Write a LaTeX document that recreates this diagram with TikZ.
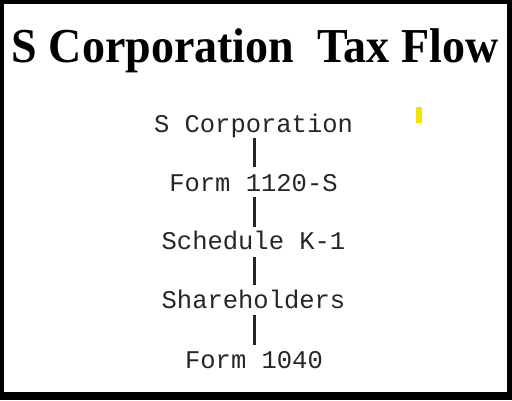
\documentclass[tikz,border=0pt]{standalone}
\usepackage{fontspec}
\setmainfont{Liberation Serif}
\setmonofont{Liberation Mono}
\definecolor{markyellow}{HTML}{F2E500}
\tikzset{
  titletext/.style={anchor=base, inner sep=0pt, yscale=1.06, font=\fontsize{46}{50}\selectfont\bfseries},
  flowtext/.style={anchor=base, inner sep=0pt, text=black!85, font=\fontsize{25.5}{28}\ttfamily},
  flowline/.style={line width=2.6pt, draw=black!85}
}
\begin{document}
\begin{tikzpicture}[x=1pt,y=-1pt]
\useasboundingbox (0,0) rectangle (512,400);
\fill[black] (0,0) rectangle (512,400);
\fill[white] (4,4) rectangle (507,392);
\node[titletext] (title) at (255,62) {S Corporation\ \ Tax Flow};
\node[flowtext] (a) at (253.5,132) {S Corporation};
\node[flowtext] (b) at (253.5,191) {Form 1120-S};
\node[flowtext] (c) at (253.5,249) {Schedule K-1};
\node[flowtext] (d) at (253.5,308) {Shareholders};
\node[flowtext] (e) at (254,368) {Form 1040};
\draw[flowline] ([xshift=1pt,yshift=-6pt]a.base) -- ([xshift=1pt,yshift=24pt]b.base);
\draw[flowline] ([xshift=1pt,yshift=-6pt]b.base) -- ([xshift=1pt,yshift=22pt]c.base);
\draw[flowline] ([xshift=1pt,yshift=-8pt]c.base) -- ([xshift=1pt,yshift=23pt]d.base);
\draw[flowline] ([xshift=1pt,yshift=-7pt]d.base) -- ([xshift=0.5pt,yshift=23pt]e.base);
\fill[markyellow] (415.5,107) rectangle (421.5,123);
\end{tikzpicture}
\end{document}
